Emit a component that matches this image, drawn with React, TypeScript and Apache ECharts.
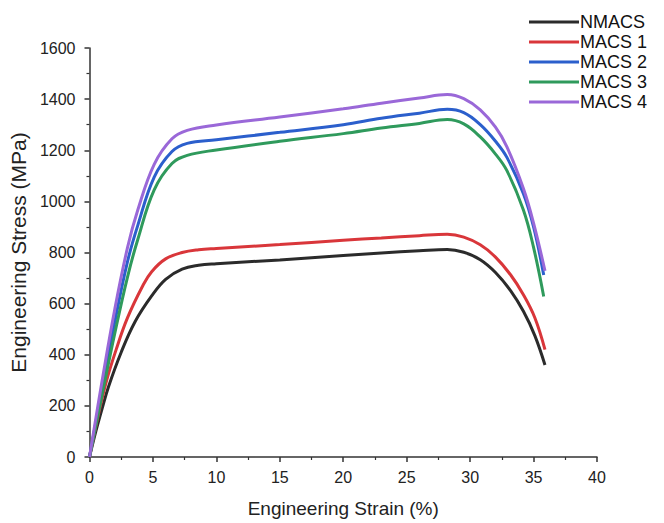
import React, { useEffect, useRef } from "react";
import * as echarts from "echarts";

const seriesNames = ["NMACS", "MACS 1", "MACS 2", "MACS 3", "MACS 4"];
const seriesColors = ["#2b2b2b", "#d9363a", "#2b5fcc", "#2f9a5c", "#9a68d8"];

const nmacs: [number, number][] = [
  [0, 0], [0.5, 100], [1, 190], [1.5, 275], [2.5, 410], [3.6, 530], [4.9, 630],
  [6, 695], [7.3, 735], [8.6, 750], [10, 756], [15, 771], [20, 788], [23, 798],
  [26, 807], [28.2, 812], [29.5, 801], [30.8, 772], [32, 722], [33.2, 650],
  [34.2, 570], [35.1, 475], [35.9, 360],
];
const macs1: [number, number][] = [
  [0, 0], [0.5, 120], [1.3, 290], [2.1, 420], [3, 545], [4.2, 670], [4.9, 725],
  [6, 775], [7.3, 800], [8.6, 811], [10, 816], [15, 831], [20, 848], [23, 857],
  [26, 866], [28.2, 871], [29.5, 860], [30.8, 830], [32, 782], [33.2, 712],
  [34.2, 635], [35.1, 545], [35.9, 420],
];
const macs2: [number, number][] = [
  [0, 0], [1, 270], [2, 530], [3, 765], [3.8, 905], [5.1, 1095], [6.5, 1195],
  [7.7, 1227], [10, 1241], [15, 1270], [20, 1300], [23, 1325], [26, 1345],
  [28.2, 1360], [29.5, 1347], [30.8, 1300], [32, 1235], [32.9, 1172],
  [34.2, 1030], [35, 900], [35.8, 712],
];
const macs3: [number, number][] = [
  [0, 0], [1, 245], [2, 485], [3, 705], [3.8, 850], [5.1, 1045], [6.5, 1148],
  [7.7, 1180], [10, 1201], [15, 1235], [20, 1265], [23, 1287], [26, 1305],
  [28.2, 1320], [29.5, 1303], [30.8, 1252], [32, 1185], [32.9, 1120],
  [34.2, 966], [35, 820], [35.8, 628],
];
const macs4: [number, number][] = [
  [0, 0], [1, 300], [2, 580], [3, 820], [3.8, 965], [5.1, 1145], [6.5, 1245],
  [7.7, 1278], [10, 1299], [15, 1330], [20, 1362], [23, 1384], [26, 1404],
  [28.2, 1418], [29.5, 1402], [30.8, 1358], [32, 1290], [32.9, 1213],
  [34.2, 1050], [35, 915], [35.9, 728],
];
const allData = [nmacs, macs1, macs2, macs3, macs4];

const xTicks = { min: 0, max: 40, interval: 5 };
const yTicks = { min: 0, max: 1600, interval: 200 };

export default function App() {
  const ref = useRef<HTMLDivElement>(null);
  useEffect(() => {
    if (!ref.current) return;
    const chart = echarts.init(ref.current, null, { renderer: "svg" });
    const font = "Liberation Sans, Arial, sans-serif";
    const axisCommon = {
      axisLine: { show: true, lineStyle: { color: "#333", width: 1.5 } },
      axisTick: { show: true, inside: false, length: 5, lineStyle: { color: "#333", width: 1.5 } },
      minorTick: { show: true, splitNumber: 2, length: 3, lineStyle: { color: "#333", width: 1.2 } },
      splitLine: { show: false },
      axisLabel: { color: "#222", fontSize: 16, fontFamily: font },
    };
    chart.setOption({
      animation: false,
      backgroundColor: "#fff",
      grid: { left: 86, right: 67, top: 48, bottom: 66, containLabel: false },
      legend: {
        orient: "vertical",
        left: 524,
        top: 8,
        icon: "rect",
        itemWidth: 50,
        itemHeight: 3,
        itemGap: 2,
        textStyle: { color: "#111", fontSize: 18, fontFamily: font, lineHeight: 18, padding: [0, 0, 0, -4] },
        data: seriesNames,
      },
      xAxis: {
        type: "value",
        ...xTicks,
        ...axisCommon,
        axisLabel: { ...axisCommon.axisLabel, margin: 12 },
        name: "Engineering Strain (%)",
        nameLocation: "middle",
        nameGap: 42,
        nameTextStyle: { color: "#222", fontSize: 19, fontFamily: font },
      },
      yAxis: {
        type: "value",
        ...yTicks,
        ...axisCommon,
        axisLabel: { ...axisCommon.axisLabel, margin: 14, formatter: (v: number) => String(v) },
        name: "Engineering Stress (MPa)",
        nameLocation: "middle",
        nameGap: 57,
        nameTextStyle: { color: "#222", fontSize: 21, fontFamily: font },
      },
      series: seriesNames.map((name, i) => ({
        name,
        type: "line",
        data: allData[i],
        smooth: 0.4,
        showSymbol: false,
        symbol: "none",
        lineStyle: { color: seriesColors[i], width: 3 },
        itemStyle: { color: seriesColors[i] },
        z: 2 + i,
      })),
    });
    return () => chart.dispose();
  }, []);
  return <div ref={ref} style={{ width: 664, height: 523, position: "absolute", left: 0, top: 0 }} />;
}
